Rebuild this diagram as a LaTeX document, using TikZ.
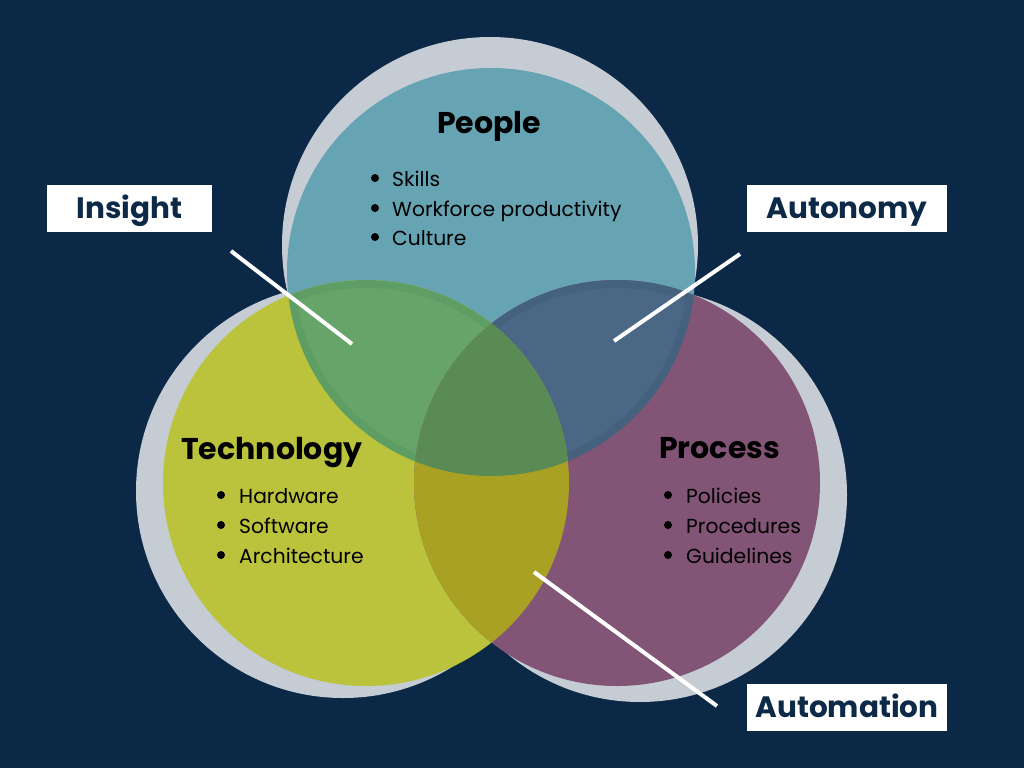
\documentclass[tikz,border=0pt]{standalone}
\usepackage{fontspec}
\setmainfont{Poppins}
\definecolor{bg}{RGB}{11,40,71}
\definecolor{ring}{RGB}{197,204,212}
\definecolor{cpeople}{RGB}{102,163,179}
\definecolor{ctech}{RGB}{187,195,60}
\definecolor{cproc}{RGB}{130,84,118}
\definecolor{cpt}{RGB}{102,164,106}
\definecolor{cptband}{RGB}{94,157,100}
\definecolor{cpr}{RGB}{74,104,134}
\definecolor{cprband}{RGB}{68,97,126}
\definecolor{ctr}{RGB}{169,161,36}
\definecolor{call}{RGB}{90,139,85}
\definecolor{navy}{RGB}{12,41,72}
\begin{document}
\begin{tikzpicture}[x=1pt,y=-1pt,
  title/.style={anchor=base west,inner sep=0pt,font=\fontsize{30}{31}\selectfont\bfseries,text=black},
  item/.style={anchor=base west,inner sep=0pt,font=\fontsize{20.3}{22}\selectfont,text=black},
  tag/.style={fill=white,text=navy,inner sep=0pt,minimum width=200pt,minimum height=47pt,text height=21pt,text depth=1pt,font=\fontsize{29.5}{30}\selectfont\bfseries},
  pointer/.style={draw=white,line width=4pt}]
\useasboundingbox (0,0) rectangle (1024,768);
\fill[bg] (0,0) rectangle (1024,768);
% centres
\coordinate (P) at (491,272);
\coordinate (T) at (366,483);
\coordinate (R) at (617,483);
\coordinate (Pg) at (490,245);
\coordinate (Tg) at (343,491);
\coordinate (Rg) at (640,495);
% grey rings
\fill[ring] (Pg) circle[radius=208pt];
\fill[ring] (Tg) circle[radius=207pt];
\fill[ring] (Rg) circle[radius=207pt];
% main circles
\fill[cpeople] (P) circle[radius=204pt];
\fill[ctech] (T) circle[radius=203pt];
\fill[cproc] (R) circle[radius=203pt];
% People & Technology
\begin{scope}
  \clip (P) circle[radius=204pt];
  \fill[cptband] (T) circle[radius=203pt];
  \clip (P) circle[radius=196pt];
  \fill[cpt] (T) circle[radius=195pt];
\end{scope}
% People & Process
\begin{scope}
  \clip (P) circle[radius=204pt];
  \fill[cprband] (R) circle[radius=203pt];
  \clip (P) circle[radius=196pt];
  \fill[cpr] (R) circle[radius=195pt];
\end{scope}
% Technology & Process
\begin{scope}
  \clip (T) circle[radius=203pt];
  \fill[ctr] (R) circle[radius=203pt];
\end{scope}
% all three
\begin{scope}
  \clip (P) circle[radius=204pt];
  \clip (T) circle[radius=203pt];
  \fill[call] (R) circle[radius=203pt];
\end{scope}
% People text
\node[title] (peopleT) at (437,133) {People};
\foreach \y/\t/\n in {186/Skills/ps,216/Workforce productivity/pw,245/Culture/pc}{
  \fill[black] (375,\y-8) circle[radius=4pt];
  \node[item] (\n) at (392,\y) {\t};
}
% Technology text
\node[title] (techT) at (181,459) {Technology};
\foreach \y/\t/\n in {503/Hardware/th,533/Software/ts,563/Architecture/ta}{
  \fill[black] (221,\y-8) circle[radius=4pt];
  \node[item] (\n) at (239,\y) {\t};
}
% Process text
\node[title] (procT) at (659,458) {Process};
\foreach \y/\t/\n in {503/Policies/rp,533/Procedures/rr,563/Guidelines/rg}{
  \fill[black] (668,\y-8) circle[radius=4pt];
  \node[item] (\n) at (686,\y) {\t};
}
% tags
\node[tag,minimum width=165pt] (insight) at (129.5,208) {Insight};
\node[tag] (autonomy) at (847,208) {Autonomy};
\node[tag] (automation) at (847,707.5) {Automation};
% pointers
\coordinate (i1) at (231,251);
\coordinate (i2) at (352,344);
\coordinate (a1) at (740,254);
\coordinate (a2) at (614,341);
\coordinate (m1) at (534,572);
\coordinate (m2) at (717,706);
\draw[pointer] (i1) -- (i2);
\draw[pointer] (a1) -- (a2);
\draw[pointer] (m1) -- (m2);
\end{tikzpicture}
\end{document}
